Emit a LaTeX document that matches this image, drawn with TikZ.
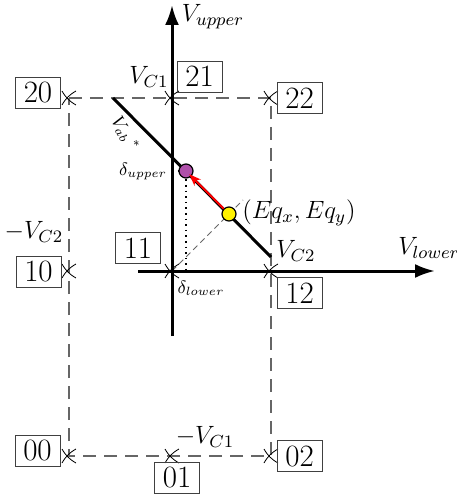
\RequirePackage{fix-cm}
\documentclass[tikz,border=0pt]{standalone}
\usepackage{fontspec}
\usepackage{amssymb}
\usetikzlibrary{arrows.meta}

\begin{document}
\begin{tikzpicture}[x=5pt,y=5pt,>=stealth,
    every node/.style={font=\fontsize{12.5}{14}\selectfont},
    state/.style={draw=black!75,line width=0.4pt,inner sep=0pt,minimum width=22.5pt,minimum height=15.5pt,font=\fontsize{15.5}{17}\selectfont},
    small/.style={font=\fontsize{9}{10}\selectfont},
    grid/.style={draw=black!60,line width=0.7pt,dash pattern=on 6.5pt off 4pt},
    axis/.style={line width=1.5pt,-{Latex[length=10pt,width=7pt]}},
    dot/.style={circle,draw=black,line width=0.6pt,inner sep=0pt,minimum size=7pt}]
                \useasboundingbox (-17.2,-22.7) rectangle (28.4,27.1);

                % switching states
                \coordinate (p20) at (-10.3,17.3);
                \coordinate (p21) at (0,17.3);
                \coordinate (p22) at (9.9,17.3);
                \coordinate (p10) at (-10.3,0);
                \coordinate (p11) at (0,0);
                \coordinate (p12) at (9.9,0);
                \coordinate (p00) at (-10.3,-18.5);
                \coordinate (p01) at (0,-18.5);
                \coordinate (p02) at (9.9,-18.5);

                \draw[grid] (p20)--(p22)--(p02)--(p00)--cycle;

                \coordinate (dg) at (7.1,7.1);
                \draw[black!60,line width=0.4pt,dash pattern=on 3pt off 2pt] (p11)--(dg);

                \coordinate (ybot) at (0,-6.5);
                \coordinate (ytop) at (0,26.6);
                \coordinate (xbot) at (-3.4,0);
                \coordinate (xtop) at (26.3,0);
                \draw[axis] (ybot)--(ytop);
                \draw[axis] (xbot)--(xtop);

                \foreach \p in {p00,p01,p02,p10,p11,p12,p20,p21,p22}{
                    \draw[line width=0.4pt] ([shift={(-0.7,-0.7)}]\p) to[bend left=15] ([shift={(0.7,0.7)}]\p);
                    \draw[line width=0.4pt] ([shift={(-0.7,0.7)}]\p) to[bend right=15] ([shift={(0.7,-0.7)}]\p);
                }

                % reference line
                \coordinate (vs) at (-5.9,17.3);
                \coordinate (ve) at (9.9,1.4);
                \draw[line width=1.5pt] (vs)--(ve);

                \coordinate (pp) at (1.4,10.0);
                \coordinate (du) at (0,10.0);
                \coordinate (dl) at (1.4,0);
                \draw[dotted,line width=0.8pt] (du)--(pp)--(dl);

                \node[dot,fill={rgb,255:red,175;green,80;blue,170}] (pu) at (pp) {};
                \node[dot,fill=yellow] (eq) at (5.7,5.7) {};
                \draw[red,line width=1pt,-{Stealth[length=6pt,width=4.5pt]},shorten >=-1.5pt] (eq)--(pu);

                % boxes
                \node[state] (n20) at (-13.4,17.85) {20};
                \node[state] (n21) at (2.75,19.45) {21};
                \node[state] (n22) at (12.75,17.3) {22};
                \node[state] (n10) at (-13.35,-0.1) {10};
                \node[state] (n11) at (-3.4,2.3) {11};
                \node[state] (n12) at (12.75,-2.2) {12};
                \node[state] (n00) at (-13.45,-17.95) {00};
                \node[state] (n01) at (0.5,-20.65) {01};
                \node[state] (n02) at (12.75,-18.5) {02};

                % labels
                \node (vup) at (4.1,25.4) {$V_{upper}$};
                \node (vlo) at (25.7,2.3) {$V_{lower}$};
                \node (vc1) at (-2.3,19.4) {$V_{C1}$};
                \node (vc1n) at (3.3,-16.6) {$-V_{C1}$};
                \node (vc2) at (12.4,2.0) {$V_{C2}$};
                \node (vc2n) at (-13.8,3.9) {$-V_{C2}$};
                \node (eqt) at (12.7,5.8) {$(Eq_x,Eq_y)$};
                \node[small,rotate=-60] (vab) at (-4.7,13.7) {$V_{ab}{}^{\,*}$};
                \node[small] (dup) at (-2.9,10.0) {$\delta_{upper}$};
                \node[small] (dlo) at (2.9,-1.7) {$\delta_{lower}$};
\end{tikzpicture}
\end{document}
